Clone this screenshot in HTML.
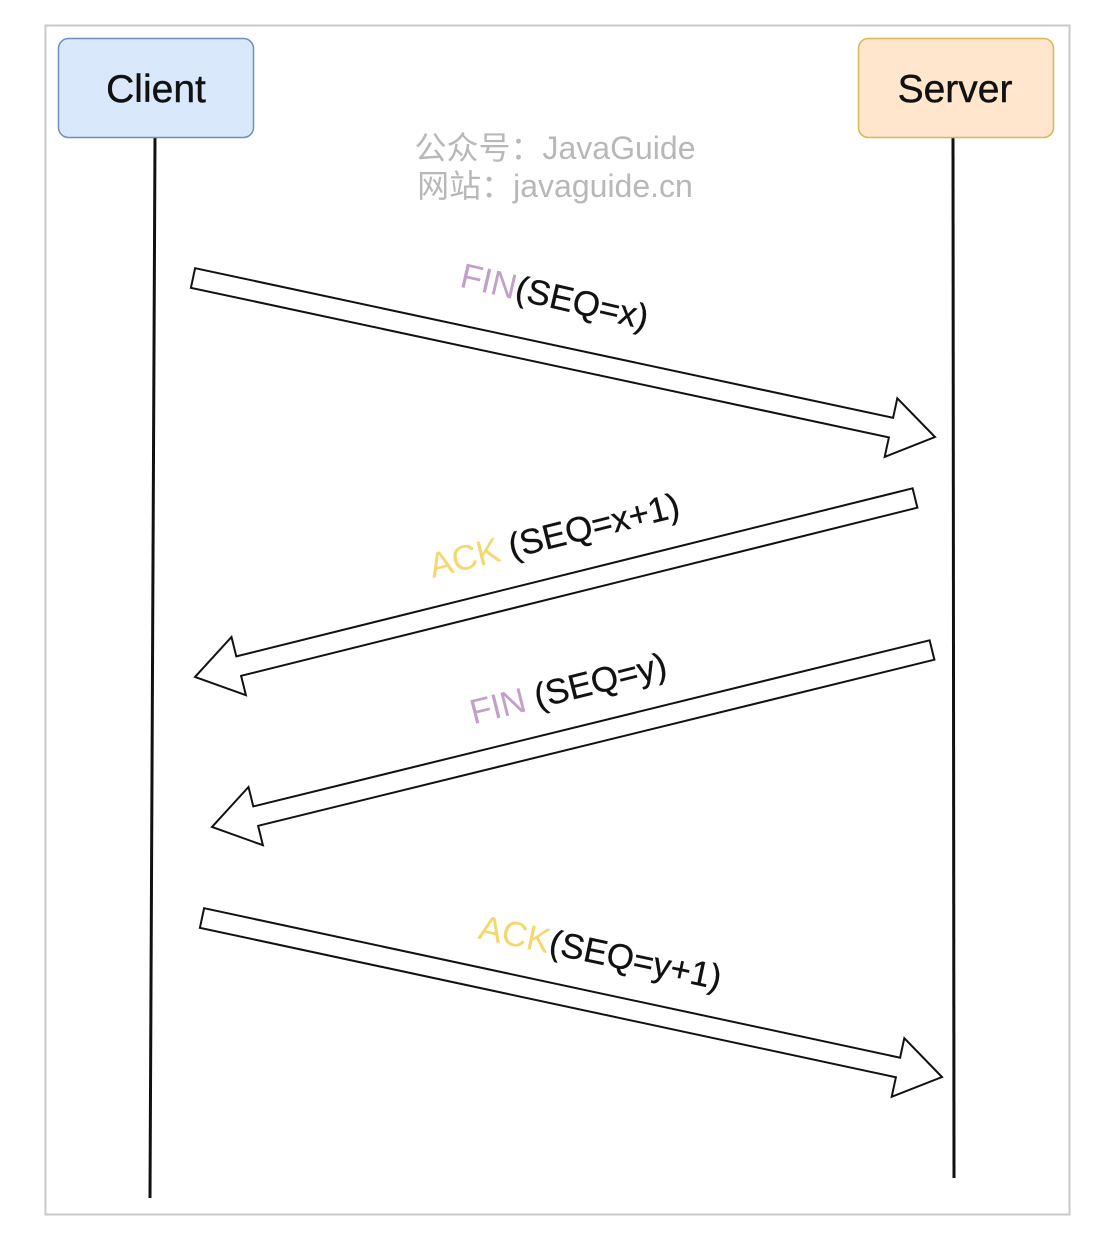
<!DOCTYPE html>
<html><head><meta charset="utf-8"><style>
html,body{margin:0;padding:0;background:#fff;}
svg{display:block;}
</style></head><body>
<svg width="1102" height="1240" viewBox="0 0 1102 1240" xmlns="http://www.w3.org/2000/svg" font-family="Liberation Sans, Noto Sans CJK SC, sans-serif">
<rect x="0" y="0" width="1102" height="1240" fill="#fff"/>
<rect x="45.5" y="25.5" width="1024" height="1189" fill="#fff" stroke="#c8c8c8" stroke-width="2"/>
<line x1="155" y1="138" x2="150" y2="1198" stroke="#111" stroke-width="3"/>
<line x1="953" y1="138" x2="954" y2="1178" stroke="#111" stroke-width="3"/>
<rect x="58.5" y="38.5" width="195" height="99" rx="10" fill="#dae8fc" stroke="#6c8ebf" stroke-width="1.5"/>
<rect x="858.5" y="38.5" width="195" height="99" rx="10" fill="#ffe6cc" stroke="#d6b656" stroke-width="1.5"/>
<text x="156" y="102" font-size="39" text-anchor="middle" fill="#111" stroke="#111" stroke-width="0.4">Client</text>
<text x="955" y="102" font-size="39" text-anchor="middle" fill="#111" stroke="#111" stroke-width="0.4">Server</text>
<text x="555" y="159" font-size="32" text-anchor="middle" fill="#b8b8b8">公众号：JavaGuide</text>
<text x="555" y="197" font-size="32" text-anchor="middle" fill="#b8b8b8">网站：javaguide.cn</text>
<g fill="#fff" stroke="#111" stroke-width="2" stroke-linejoin="miter">
<polygon points="195.1,268.2 893.1,417.8 897.3,398.3 935,437 884.7,456.9 888.9,437.4 190.9,287.8"/>
<polygon points="912.6,488.3 236.3,656.4 231.5,637 195,677 245.9,695.2 241.1,675.8 917.4,507.7"/>
<polygon points="929.6,640.3 253.3,806.4 248.5,787 212,827 262.9,845.2 258.1,825.8 934.4,659.7"/>
<polygon points="204.1,908.2 900.1,1057.7 904.3,1038.2 942,1077 891.7,1096.8 895.9,1077.3 199.9,927.8"/>
</g>
<g font-size="35" stroke-width="0.3">
<text transform="translate(552,308) rotate(13)" text-anchor="middle"><tspan fill="#c3a0c8">FIN</tspan><tspan fill="#111" stroke="#111">(SEQ=x)</tspan></text>
<text transform="translate(557,547) rotate(-14)" text-anchor="middle"><tspan fill="#f5d76e">ACK</tspan><tspan fill="#111" stroke="#111"> (SEQ=x+1)</tspan></text>
<text transform="translate(571,700) rotate(-14)" text-anchor="middle"><tspan fill="#c3a0c8">FIN</tspan><tspan fill="#111" stroke="#111"> (SEQ=y)</tspan></text>
<text transform="translate(598,964) rotate(12)" text-anchor="middle"><tspan fill="#f5d76e">ACK</tspan><tspan fill="#111" stroke="#111">(SEQ=y+1)</tspan></text>
</g>
</svg>
</body></html>
